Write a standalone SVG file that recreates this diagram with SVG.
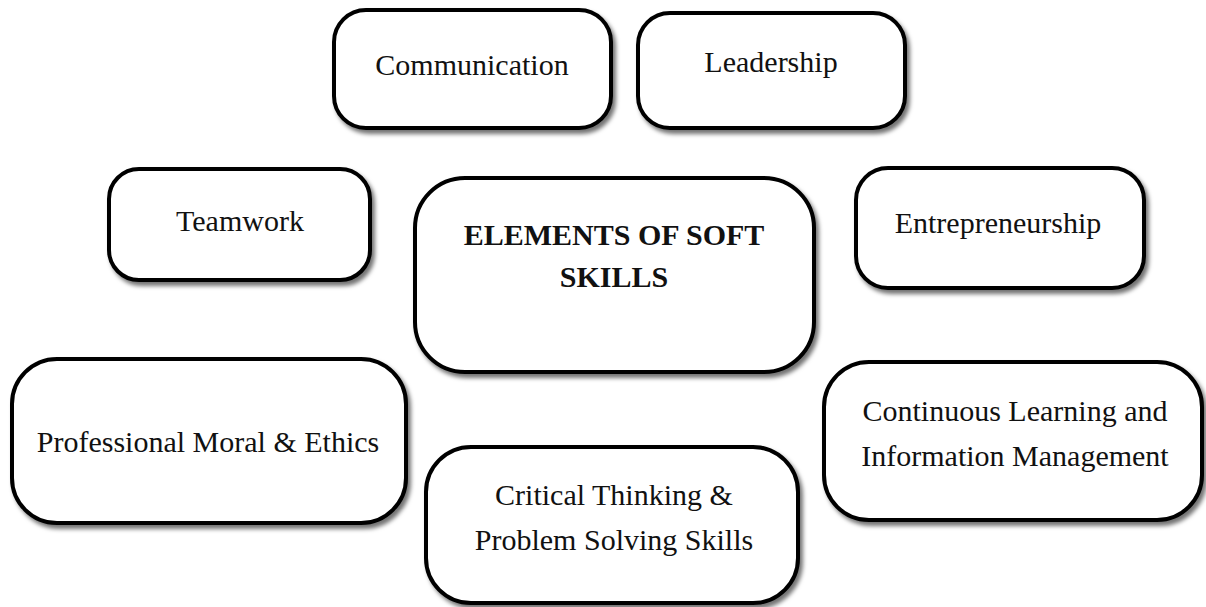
<svg xmlns="http://www.w3.org/2000/svg" width="1206" height="607" viewBox="0 0 1206 607">
  <defs>
    <filter id="shadow" x="-10%" y="-10%" width="125%" height="130%">
      <feDropShadow dx="3" dy="4" stdDeviation="2" flood-color="#000" flood-opacity="0.55"/>
    </filter>
  </defs>
  <style>
    .box { fill: #fff; stroke: #000; stroke-width: 4; filter: url(#shadow); }
    .lbl { font-family: "Liberation Serif", "Times New Roman", serif; font-size: 30px; fill: #111; text-anchor: middle; }
    .title { font-weight: bold; font-size: 30px; }
  </style>
  <rect width="1206" height="607" fill="#fff"/>

  <g id="connectors"/>

  <g id="node-communication">
    <rect class="box" x="334" y="10" width="277" height="118" rx="32"/>
    <text class="lbl" x="472" y="75">Communication</text>
  </g>

  <g id="node-leadership">
    <rect class="box" x="638" y="13" width="267" height="115" rx="32"/>
    <text class="lbl" x="771" y="72">Leadership</text>
  </g>

  <g id="node-teamwork">
    <rect class="box" x="109" y="169" width="261" height="111" rx="30"/>
    <text class="lbl" x="240" y="231">Teamwork</text>
  </g>

  <g id="node-center">
    <rect class="box" x="415" y="178" width="399" height="194" rx="50"/>
    <text class="lbl title" x="614" y="245">ELEMENTS OF SOFT</text>
    <text class="lbl title" x="614" y="287">SKILLS</text>
  </g>

  <g id="node-entrepreneurship">
    <rect class="box" x="856" y="168" width="288" height="120" rx="32"/>
    <text class="lbl" x="998" y="233">Entrepreneurship</text>
  </g>

  <g id="node-professional">
    <rect class="box" x="12" y="359" width="394" height="164" rx="45"/>
    <text class="lbl" x="208" y="452">Professional Moral &amp; Ethics</text>
  </g>

  <g id="node-critical">
    <rect class="box" x="426" y="447" width="372" height="156" rx="45"/>
    <text class="lbl" x="614" y="505">Critical Thinking &amp;</text>
    <text class="lbl" x="614" y="550">Problem Solving Skills</text>
  </g>

  <g id="node-continuous">
    <rect class="box" x="824" y="362" width="378" height="158" rx="45"/>
    <text class="lbl" x="1015" y="421">Continuous Learning and</text>
    <text class="lbl" x="1015" y="466">Information Management</text>
  </g>
</svg>
